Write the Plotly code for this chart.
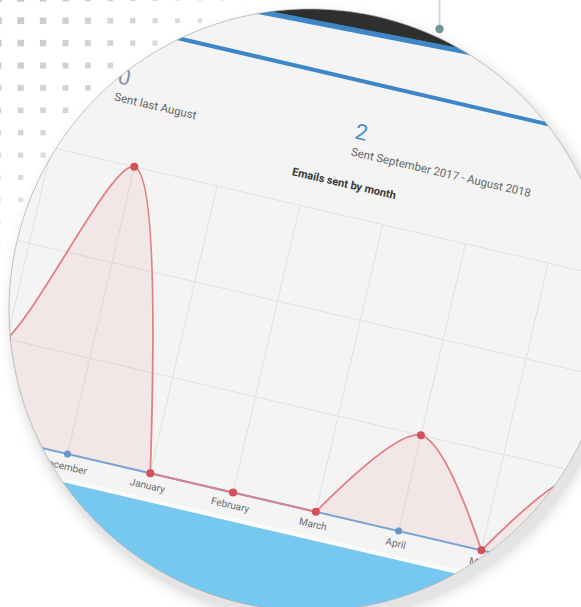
import math
import plotly.graph_objects as go

# ---------------- data ----------------
MONTHS = ["September", "October", "November", "December", "January", "February",
          "March", "April", "May", "June", "July", "August"]
EMAILS_SENT = [0, 0, 1, 3, 0, 0, 0, 1, 0, 1, 0, 0]
PREVIOUS_YEAR = [0, 0, 0, 0, 0, 0, 0, 0, 0, 0, 0, 0]
GRID_VALUES = [1, 2, 3]
Y_MAX = 3

TITLE = "Emails sent by month"
TOTAL_COUNT = "2"
TOTAL_CAPTION = "Sent September 2017 - August 2018"
LAST_MONTH_COUNT = "0"
LAST_MONTH_CAPTION = "Sent last August"

# ---------------- page / card geometry ----------------
W, H = 581, 607
FONT = "Roboto"
ANGLE = 13.1                 # tilt of the dashboard card (deg, clockwise)
ORIGIN = (67.5, 454.0)       # page position of the anchor month on the x axis
ANCHOR_MONTH = 3             # index of the month sitting at ORIGIN
MONTH_STEP = 85.0            # px between month ticks
UNIT = 98.3                  # px per email on the value axis
CX, CY, R = 310.0, 310.0, 301.0   # round viewport

COS = math.cos(math.radians(ANGLE))
SIN = math.sin(math.radians(ANGLE))

RED_LINE = "#e27f83"
RED_DOT = "#d4515b"
RED_FILL = "rgba(232,118,118,0.11)"
BLUE_LINE = "#74a7d8"
BLUE_DOT = "#5f97cf"
PANEL = "#f4f4f4"


def page(lx, ly):
    """Card coordinates (x right, y down, px) -> page pixels."""
    return (ORIGIN[0] + lx * COS - ly * SIN, ORIGIN[1] + lx * SIN + ly * COS)


def month_x(i):
    return (i - ANCHOR_MONTH) * MONTH_STEP


def chart_xy(i, v):
    return page(month_x(i), -v * UNIT)


def in_view(pt, slack=0.0):
    return math.hypot(pt[0] - CX, pt[1] - CY) <= R + slack


def path_of(pts, close=True):
    s = "M" + " L".join(f"{x:.2f},{y:.2f}" for x, y in pts)
    return s + (" Z" if close else "")


def card_rect(x0, y0, x1, y1):
    return [page(x0, y0), page(x1, y0), page(x1, y1), page(x0, y1)]


def circle_pts(cx, cy, r, n=240):
    return [(cx + r * math.cos(2 * math.pi * k / n), cy + r * math.sin(2 * math.pi * k / n))
            for k in range(n)]


shapes = []


def poly(pts, color, layer="below"):
    shapes.append(dict(type="path", xref="x", yref="y", path=path_of(pts),
                       fillcolor=color, line=dict(width=0), layer=layer))


# ---- card background pieces ----
# top navigation bar with its blue bottom border (slightly steeper edge: perspective)
def header_edge(lx):
    return -477.0 - 0.0368 * (lx - 106.0)

XL, XR = -900.0, 1200.0
poly([page(XL, header_edge(XL)), page(XR, header_edge(XR)),
      page(XR, -1600), page(XL, -1600)], "#2e302e")
poly([page(XL, header_edge(XL) - 0.5), page(XR, header_edge(XR) - 0.5),
      page(XR, header_edge(XR) + 4.5), page(XL, header_edge(XL) + 4.5)], "#3d87c8")
# divider under the summary figures
poly(card_rect(XL, -432.0, XR, -428.0), "#3b87c7")
# footer strip and light blue band
poly(card_rect(XL, 24.5, XR, 28.5), "#fbfbfb")
poly(card_rect(XL, 28.5, XR, 900.0), "#76c8f0")

# ---- grid ----
GRID = "#e1e1e1"
for i in range(len(MONTHS)):
    (x0, y0), (x1, y1) = chart_xy(i, 0), chart_xy(i, Y_MAX)
    shapes.append(dict(type="line", xref="x", yref="y", x0=x0, y0=y0, x1=x1, y1=y1,
                       line=dict(color=GRID, width=1), layer="below"))
for v in GRID_VALUES:
    (x0, y0), (x1, y1) = chart_xy(0, v), chart_xy(len(MONTHS) - 1, v)
    shapes.append(dict(type="line", xref="x", yref="y", x0=x0, y0=y0, x1=x1, y1=y1,
                       line=dict(color=GRID, width=1), layer="below"))


# ---- tilted text (shape labels, so the round viewport clips them) ----
def tilted_text(lx, ly, text, size, color):
    x0, y0 = page(lx - 3, ly)
    x1, y1 = page(lx + 3, ly)
    shapes.append(dict(
        type="line", xref="x", yref="y", x0=x0, y0=y0, x1=x1, y1=y1, layer="above",
        line=dict(color="rgba(0,0,0,0)", width=0),
        label=dict(text=text, textangle=ANGLE, textposition="middle",
                   xanchor="center", yanchor="middle", padding=0,
                   font=dict(family=FONT, size=size, color=color))))


tilted_text(-30.0, -382.0, LAST_MONTH_COUNT, 22, "#8594a6")
tilted_text(6.8, -359.5, LAST_MONTH_CAPTION, 11.5, "#666666")
tilted_text(213.5, -382.0, TOTAL_COUNT, 22, "#4a8fcf")
tilted_text(300.0, -359.5, TOTAL_CAPTION, 11.5, "#666666")
tilted_text(208.0, -327.0, f"<b>{TITLE}</b>", 11, "#383838")
# month names: only those that reach into the round viewport
for i, m in enumerate(MONTHS):
    if in_view(page(month_x(i), 11.5), slack=12):
        tilted_text(month_x(i), 11.5, m, 10, "#6b6b6b")

# ---- round viewport: white mask outside the circle ----
ring = circle_pts(CX, CY, R)
shapes.append(dict(type="path", xref="x", yref="y",
                   path=path_of([(-20, -20), (W + 20, -20), (W + 20, H + 20), (-20, H + 20)])
                   + " " + path_of(ring),
                   fillcolor="white", fillrule="evenodd", line=dict(width=0), layer="above"))

# soft drop shadow towards the lower right
SH_OX, SH_OY = 5.0, 9.0
for k in range(1, 15):
    rr = R + 1.6 * k
    outer, inner = [], []
    for n in range(241):
        phi = 2 * math.pi * n / 240
        ex, ey = math.cos(phi), math.sin(phi)
        eo = ex * SH_OX + ey * SH_OY
        rho = eo + math.sqrt(eo * eo - (SH_OX ** 2 + SH_OY ** 2) + rr * rr)
        rho = max(rho, R)
        outer.append((CX + rho * ex, CY + rho * ey))
        inner.append((CX + R * ex, CY + R * ey))
    a = 0.024 * (1 - k / 15.0) ** 2
    shapes.append(dict(type="path", xref="x", yref="y", path=path_of(outer + inner[::-1]),
                       fillcolor=f"rgba(0,0,0,{a:.4f})", line=dict(width=0), layer="above"))

# thin rim
shapes.append(dict(type="path", xref="x", yref="y", path=path_of(ring),
                   fillcolor="rgba(0,0,0,0)", line=dict(color="#a8a8a8", width=0.7),
                   layer="above"))

# decorative dot grid behind the viewport
PITCH, START = 22.4, -1.7
for r_i in range(24):
    for c_i in range(24):
        x, y = START + c_i * PITCH, START + r_i * PITCH
        d = math.hypot(x, y)
        size = 7.2 - 0.013 * d
        if size < 0.9:
            continue
        if math.hypot(x - CX, y - CY) < R + size * 0.75:
            continue
        op = max(0.15, 1 - d / 560)
        h = size / 2
        shapes.append(dict(type="rect", xref="x", yref="y", x0=x - h, x1=x + h, y0=y - h, y1=y + h,
                           fillcolor=f"rgba(200,200,200,{op:.3f})", line=dict(width=0),
                           layer="above"))

# pin marker at the top
shapes.append(dict(type="line", xref="x", yref="y", x0=439.5, x1=439.5, y0=-2, y1=26,
                   line=dict(color="#d6d6d6", width=2), layer="above"))
shapes.append(dict(type="circle", xref="x", yref="y", x0=435.3, x1=443.7, y0=24.8, y1=33.2,
                   fillcolor="#6e9695", line=dict(width=0), layer="above"))

# ---------------- traces ----------------
fig = go.Figure()

bx, by = zip(*[chart_xy(i, v) for i, v in enumerate(PREVIOUS_YEAR)])
fig.add_trace(go.Scatter(x=bx, y=by, mode="lines+markers",
                         line=dict(color=BLUE_LINE, width=2),
                         marker=dict(size=7, color=BLUE_DOT), hoverinfo="skip"))

# the sent series is drawn piecewise between zero months so the curve
# never dips below the axis (same behaviour as a clamped bezier)
zeros = [i for i, v in enumerate(EMAILS_SENT) if v == 0]
for a, b in zip(zeros, zeros[1:]):
    px, py = zip(*[chart_xy(i, EMAILS_SENT[i]) for i in range(a, b + 1)])
    curved = b - a > 1
    fig.add_trace(go.Scatter(
        x=px, y=py, mode="lines",
        line=dict(color=RED_LINE, width=1.8,
                  shape="spline" if curved else "linear", smoothing=0.85),
        fill="toself" if curved else "none", fillcolor=RED_FILL, hoverinfo="skip"))

rx, ry = zip(*[chart_xy(i, v) for i, v in enumerate(EMAILS_SENT)])
fig.add_trace(go.Scatter(x=rx, y=ry, mode="markers",
                         marker=dict(size=8, color=RED_DOT), hoverinfo="skip"))

fig.update_layout(
    width=W, height=H, margin=dict(l=0, r=0, t=0, b=0),
    paper_bgcolor="white", plot_bgcolor=PANEL, showlegend=False, hovermode=False,
    xaxis=dict(range=[0, W], autorange=False, visible=False, fixedrange=True),
    yaxis=dict(range=[H, 0], autorange=False, visible=False, fixedrange=True),
    shapes=shapes,
)

fig.write_html("out.html", config={"displayModeBar": False})
